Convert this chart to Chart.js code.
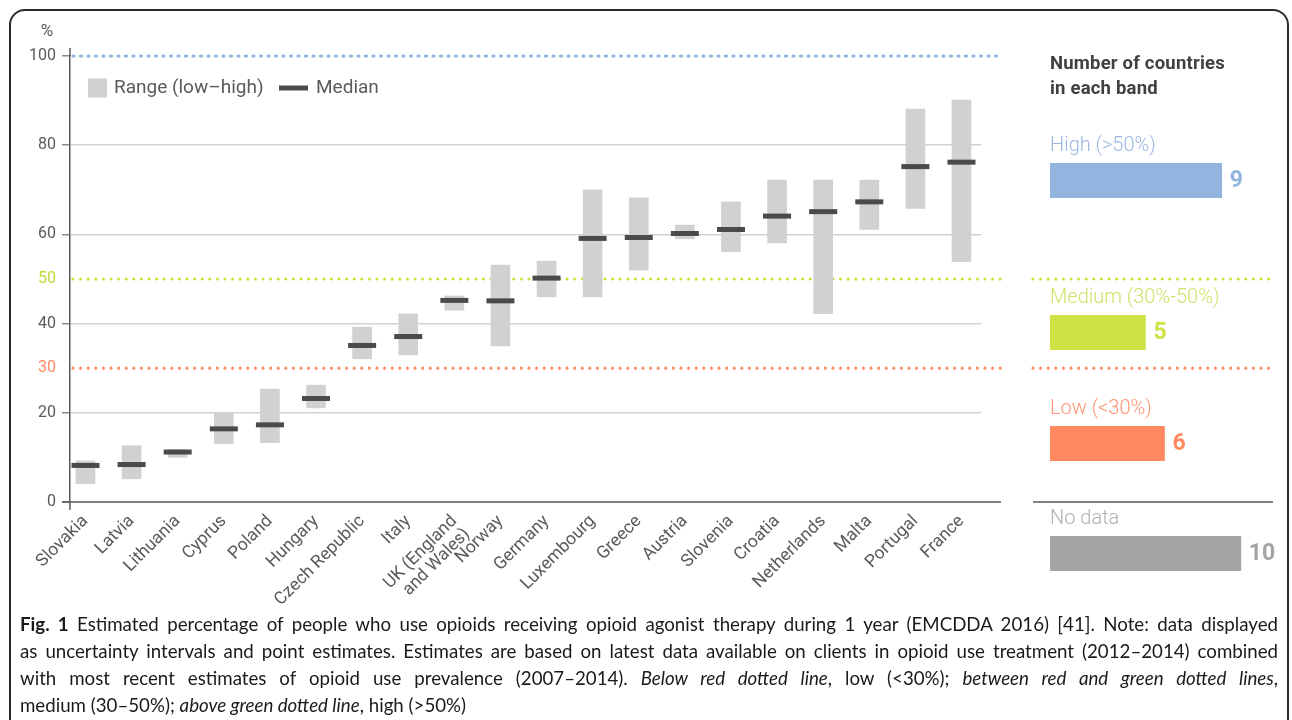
<!DOCTYPE html>
<html>
<head>
<meta charset="utf-8">
<script src="https://cdn.jsdelivr.net/npm/chart.js@4.4.1/dist/chart.umd.min.js"></script>
<style>
  html, body { margin: 0; padding: 0; background: #fff; }
  body { width: 1292px; height: 720px; position: relative; overflow: hidden; font-family: Roboto, sans-serif; }
  #frame { position: absolute; left: 9px; top: 9px; width: 1280px; height: 780px; border: 2px solid #2b2b2b; border-radius: 16px; box-sizing: border-box; }
  #main-wrap { position: absolute; left: 0; top: 0; width: 1292px; height: 640px; }
  #panel-title { position: absolute; left: 1050px; top: 51px; font-size: 18.5px; font-weight: 700; line-height: 25px; color: #404040; letter-spacing: 0.2px; }
  .band-label { position: absolute; left: 1050px; height: 24px; line-height: 24px; font-size: 20px; font-weight: 300; white-space: nowrap; }
  .band-bar { position: absolute; left: 1050px; width: 229px; height: 35px; }
  #caption { position: absolute; left: 20px; top: 611px; width: 1258px; font-family: Lato, sans-serif; font-size: 18.7px; line-height: 27px; color: #1a1a1a; }
  #caption .line { text-align: justify; text-align-last: justify; }
</style>
</head>
<body>
<div id="frame"></div>
<div id="main-wrap"><canvas id="main-chart"></canvas></div>
<div id="panel-title">Number of countries<br>in each band</div>
<div id="band-panel"></div>
<div id="caption">
  <div class="line"><b>Fig. 1</b> Estimated percentage of people who use opioids receiving opioid agonist therapy during 1 year (EMCDDA 2016) [41]. Note: data displayed</div>
  <div class="line">as uncertainty intervals and point estimates. Estimates are based on latest data available on clients in opioid use treatment (2012–2014) combined</div>
  <div class="line">with most recent estimates of opioid use prevalence (2007–2014). <i>Below red dotted line</i>, low (&lt;30%); <i>between red and green dotted lines</i>,</div>
  <div>medium (30–50%); <i>above green dotted line</i>, high (&gt;50%)</div>
</div>
<script>
// data
const countries = ['Slovakia', 'Latvia', 'Lithuania', 'Cyprus', 'Poland', 'Hungary', 'Czech Republic', 'Italy',
  ['UK (England', 'and Wales)'], 'Norway', 'Germany', 'Luxembourg', 'Greece', 'Austria', 'Slovenia', 'Croatia',
  'Netherlands', 'Malta', 'Portugal', 'France'];
const rangeLow = [4.1, 5.2, 10.0, 13.1, 13.3, 21.1, 32.1, 33.0, 43.0, 35.0, 46.0, 46.0, 52.0, 59.0, 56.1, 58.1, 42.2, 61.1, 65.8, 53.9];
const rangeHigh = [9.2, 12.6, 11.8, 20.1, 25.3, 26.2, 39.2, 42.2, 46.2, 53.1, 54.0, 70.0, 68.2, 62.1, 67.3, 72.2, 72.2, 72.2, 88.1, 90.1];
const medians = [8.2, 8.4, 11.2, 16.4, 17.3, 23.2, 35.1, 37.1, 45.2, 45.1, 50.2, 59.1, 59.3, 60.2, 61.1, 64.1, 65.1, 67.3, 75.2, 76.2];
const yTicks = [0, 20, 30, 40, 50, 60, 80, 100];
const gridTicks = [20, 40, 60, 80];
const thresholds = [100, 50, 30];
const legendLabels = ['Range (low–high)', 'Median'];

const bandLabels = ['High (>50%)', 'Medium (30%-50%)', 'Low (<30%)', 'No data'];
const bandCounts = [9, 5, 6, 10];

// styles
const GREY_TEXT = '#5a5a5a';
const AXIS = '#595959';
const RANGE_FILL = '#d0d1d0';
const MEDIAN = '#4a4a4a';
const lineColors = { 100: '#93b3df', 50: '#cde23f', 30: '#ff8a65' };
const bandBarColors = ['#94b4e0', '#cfe244', '#ff8a62', '#a4a4a4'];
const bandTextColors = ['#9ab8e3', '#cfe26b', '#ff9573', '#b0b0b0'];
const bandTops = [163, 315, 426, 536];

const LINE_END = 1001;
const PANEL_LEFT = 1033;
const PANEL_RIGHT = 1275;

Chart.defaults.font.family = 'Roboto, sans-serif';

function dotted(ctx, x1, x2, y, color, dash) {
    ctx.save();
    ctx.strokeStyle = color;
    ctx.lineWidth = 3.2;
    ctx.lineCap = 'round';
    ctx.setLineDash(dash);
    ctx.beginPath();
    ctx.moveTo(x1, y);
    ctx.lineTo(x2, y);
    ctx.stroke();
    ctx.restore();
}

function solid(ctx, x1, y1, x2, y2) {
    ctx.save();
    ctx.strokeStyle = AXIS;
    ctx.lineWidth = 1.5;
    ctx.beginPath();
    ctx.moveTo(x1, y1);
    ctx.lineTo(x2, y2);
    ctx.stroke();
    ctx.restore();
}

// threshold lines, baseline, legend and unit label
const decorations = {
    id: 'decorations',
    beforeDatasetsDraw(chart) {
        const { ctx, chartArea, scales: { y } } = chart;
        thresholds.forEach(t => {
            const py = y.getPixelForValue(t);
            const dash = t === 100 ? [1, 6.5] : [0, 7.6];
            dotted(ctx, chartArea.left + 3, LINE_END, py, lineColors[t], dash);
            if (t !== 100) dotted(ctx, PANEL_LEFT, PANEL_RIGHT, py, lineColors[t], dash);
        });
        const y0 = y.getPixelForValue(0);
        solid(ctx, chartArea.left - 8, y0, LINE_END, y0);
        solid(ctx, PANEL_LEFT, y0, PANEL_RIGHT - 2, y0);
        solid(ctx, chartArea.left, chartArea.top - 8, chartArea.left, chartArea.top);
        solid(ctx, chartArea.left, chartArea.bottom, chartArea.left, chartArea.bottom + 8);
    },
    afterDatasetsDraw(chart) {
        const { ctx, chartArea } = chart;
        const lx = chartArea.left + 18;
        const ly = chartArea.top + 32;
        ctx.save();
        ctx.fillStyle = RANGE_FILL;
        ctx.fillRect(lx, ly - 9.5, 19, 19);
        ctx.strokeStyle = MEDIAN;
        ctx.lineWidth = 5;
        ctx.beginPath();
        ctx.moveTo(lx + 191, ly);
        ctx.lineTo(lx + 220, ly);
        ctx.stroke();
        ctx.font = '19px Roboto, sans-serif';
        ctx.fillStyle = GREY_TEXT;
        ctx.textBaseline = 'middle';
        ctx.fillText(legendLabels[0], lx + 26, ly);
        ctx.fillText(legendLabels[1], lx + 228, ly);
        ctx.font = '17px Roboto, sans-serif';
        ctx.textAlign = 'center';
        ctx.fillText('%', chartArea.left - 23, chartArea.top - 24);
        ctx.restore();
    }
};

function tickColor(v) {
    if (v === 30) return lineColors[30];
    if (v === 50) return '#c5da38';
    return GREY_TEXT;
}

new Chart(document.getElementById('main-chart'), {
    type: 'bar',
    data: {
        datasets: [
            {
                label: legendLabels[1],
                type: 'line',
                showLine: false,
                data: medians.map((m, i) => ({ x: i, y: m })),
                pointStyle: 'line',
                pointRadius: 14,
                pointHoverRadius: 14,
                pointBorderWidth: 5,
                pointBorderColor: MEDIAN,
                order: 0
            },
            {
                label: legendLabels[0],
                data: rangeLow.map((lo, i) => ({ x: i, y: [lo, rangeHigh[i]] })),
                backgroundColor: RANGE_FILL,
                barThickness: 19,
                order: 1
            }
        ]
    },
    options: {
        responsive: true,
        maintainAspectRatio: false,
        animation: false,
        events: [],
        layout: { padding: { left: 10, top: 56, right: 311, bottom: 8 } },
        plugins: { legend: { display: false }, tooltip: { enabled: false } },
        scales: {
            x: {
                type: 'linear',
                offset: false,
                clip: false,
                min: -0.336,
                max: 19.423,
                afterBuildTicks: s => { s.ticks = countries.map((_, i) => ({ value: i })); },
                afterFit: s => { s.height = 130; },
                ticks: {
                    callback: v => countries[v],
                    autoSkip: false,
                    minRotation: 45,
                    maxRotation: 45,
                    color: GREY_TEXT,
                    font: { size: 17.5, lineHeight: 1.05 },
                    padding: 2
                },
                grid: { display: false },
                border: { display: false }
            },
            y: {
                min: 0,
                max: 100,
                afterBuildTicks: s => { s.ticks = yTicks.map(v => ({ value: v })); },
                afterFit: s => { s.width = 60; },
                ticks: {
                    color: c => tickColor(c.tick.value),
                    font: { size: 16 },
                    padding: 6
                },
                grid: {
                    color: c => gridTicks.includes(c.tick && c.tick.value) ? '#d2d2d2' : 'rgba(0,0,0,0)',
                    tickColor: c => (c.tick && (c.tick.value === 30 || c.tick.value === 50)) ? 'rgba(0,0,0,0)' : '#8a8a8a',
                    lineWidth: 1.5,
                    tickLength: 8
                },
                border: { color: AXIS, width: 1.5 }
            }
        }
    },
    plugins: [decorations]
});

// count bars on the right
const countLabel = {
    id: 'countLabel',
    afterDatasetsDraw(chart) {
        const ds = chart.data.datasets[0];
        const bar = chart.getDatasetMeta(0).data[0];
        const ctx = chart.ctx;
        ctx.save();
        ctx.font = 'bold 23px Roboto, sans-serif';
        ctx.fillStyle = ds.backgroundColor;
        ctx.textBaseline = 'middle';
        ctx.fillText(String(ds.data[0]), bar.x + 8, bar.y + 1);
        ctx.restore();
    }
};

const panel = document.getElementById('band-panel');
bandLabels.forEach((name, i) => {
    const label = document.createElement('div');
    label.className = 'band-label';
    label.style.top = (bandTops[i] - 31) + 'px';
    label.style.color = bandTextColors[i];
    label.textContent = name;
    panel.appendChild(label);

    const wrap = document.createElement('div');
    wrap.className = 'band-bar';
    wrap.style.top = bandTops[i] + 'px';
    const canvas = document.createElement('canvas');
    wrap.appendChild(canvas);
    panel.appendChild(wrap);

    new Chart(canvas, {
        type: 'bar',
        data: {
            labels: [name],
            datasets: [{ data: [bandCounts[i]], backgroundColor: bandBarColors[i], barPercentage: 1, categoryPercentage: 1 }]
        },
        options: {
            indexAxis: 'y',
            responsive: true,
            maintainAspectRatio: false,
            animation: false,
            events: [],
            layout: { padding: 0 },
            plugins: { legend: { display: false }, tooltip: { enabled: false } },
            scales: {
                x: { display: false, min: 0, max: 12 },
                y: { display: false }
            }
        },
        plugins: [countLabel]
    });
});
</script>
</body>
</html>
